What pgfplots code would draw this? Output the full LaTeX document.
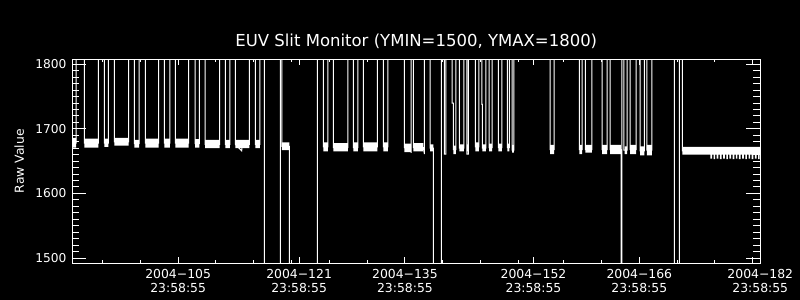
\documentclass[border=0pt]{standalone}
\usepackage{fontspec}
\setmainfont{DejaVu Sans}
\usepackage{pgfplots}
\pgfplotsset{compat=1.18}
\usepackage{pgfplotstable}
% Trace of the raw values (off-scale excursions above 1808 and below 1492)
\pgfplotstableread{
x y
92.00 1678
92.49 1678
92.49 1850
93.59 1850
93.59 1678
95.44 1678
95.44 1850
96.23 1850
96.23 1678
96.76 1678
96.76 1850
97.56 1850
97.56 1680
99.46 1680
99.46 1850
100.20 1850
100.20 1677
100.83 1677
100.83 1850
101.66 1850
101.66 1678
103.43 1678
103.43 1850
104.17 1850
104.17 1678
104.89 1678
104.89 1850
105.63 1850
105.63 1678
107.40 1678
107.40 1850
108.23 1850
108.23 1677
108.80 1677
108.80 1850
109.56 1850
109.56 1676
111.50 1676
111.50 1850
112.24 1850
112.24 1676
112.83 1676
112.83 1850
113.57 1850
113.57 1676
114.40 1666
114.50 1676
115.42 1676
115.42 1850
116.21 1850
116.21 1676
116.80 1676
116.80 1850
117.40 1850
117.40 1450
119.52 1450
119.52 1850
119.71 1850
119.71 1673
120.71 1673
120.71 1450
124.42 1450
124.42 1850
125.21 1850
125.21 1672
125.79 1672
125.79 1850
126.53 1850
126.53 1671
128.44 1671
128.44 1850
129.18 1850
129.18 1671
129.76 1671
129.76 1850
130.50 1850
130.50 1672
132.36 1672
132.36 1850
133.15 1850
133.15 1672
133.73 1672
133.73 1850
135.93 1850
135.93 1671
136.81 1664
136.81 1850
137.12 1850
137.12 1671
138.44 1671
138.57 1661
138.57 1850
139.33 1850
139.33 1670
139.76 1670
139.76 1450
140.82 1450
140.82 1850
141.22 1850
141.22 1661
141.40 1661
141.40 1850
142.24 1850
142.24 1740
142.41 1740
142.41 1668
142.73 1668
142.73 1850
143.20 1850
143.20 1670
143.79 1670
143.79 1850
144.18 1850
144.18 1661
144.40 1661
144.40 1850
145.32 1850
145.32 1672
145.77 1672
145.77 1850
146.17 1850
146.17 1738
146.25 1738
146.25 1670
146.70 1670
146.70 1850
147.13 1850
147.13 1671
147.53 1671
147.53 1850
148.36 1850
148.36 1671
148.81 1671
148.81 1850
149.56 1850
149.56 1671
149.82 1671
149.82 1850
150.18 1850
150.18 1667
150.40 1667
150.40 1850
155.21 1850
155.21 1668
155.73 1668
155.73 1850
159.08 1850
159.08 1668
159.44 1668
159.44 1850
159.88 1850
159.88 1668
160.72 1668
160.72 1850
162.09 1850
162.09 1668
162.75 1668
162.75 1850
163.14 1850
163.14 1668
164.60 1668
164.60 1450
164.69 1450
164.69 1850
164.96 1850
164.96 1667
165.39 1667
165.39 1850
165.79 1850
165.79 1668
166.58 1668
166.58 1850
167.11 1850
167.11 1666
167.68 1666
167.68 1850
168.00 1850
168.00 1667
168.66 1667
168.66 1850
171.65 1850
171.65 1450
172.31 1450
172.31 1850
172.71 1850
172.71 1666
183.00 1666
}\trace
% Envelope (min/max) of the noisy in-range segments
\pgfplotstableread{
x y
92.00 1671
92.49 1671
92.49 1686
92.00 1686
nan nan
93.59 1671
95.44 1671
95.44 1685
93.59 1685
nan nan
96.23 1672
96.76 1672
96.76 1685
96.23 1685
nan nan
97.56 1674
99.46 1674
99.46 1686
97.56 1686
nan nan
100.20 1671
100.83 1671
100.83 1683
100.20 1683
nan nan
101.66 1671
103.43 1671
103.43 1685
101.66 1685
nan nan
104.17 1671
104.89 1671
104.89 1685
104.17 1685
nan nan
105.63 1671
107.40 1671
107.40 1685
105.63 1685
nan nan
108.23 1671
108.80 1671
108.80 1684
108.23 1684
nan nan
109.56 1670
111.50 1670
111.50 1683
109.56 1683
nan nan
112.24 1670
112.83 1670
112.83 1683
112.24 1683
nan nan
113.57 1670
115.42 1670
115.42 1683
113.57 1683
nan nan
116.21 1670
116.80 1670
116.80 1683
116.21 1683
nan nan
119.71 1667
120.71 1667
120.71 1679
119.71 1679
nan nan
125.21 1665
125.79 1665
125.79 1679
125.21 1679
nan nan
126.53 1665
128.44 1665
128.44 1678
126.53 1678
nan nan
129.18 1665
129.76 1665
129.76 1679
129.18 1679
nan nan
130.50 1665
132.36 1665
132.36 1679
130.50 1679
nan nan
133.15 1665
133.73 1665
133.73 1679
133.15 1679
nan nan
135.93 1664
136.81 1664
136.81 1677
135.93 1677
nan nan
137.12 1665
138.44 1665
138.44 1678
137.12 1678
nan nan
139.33 1665
139.76 1665
139.76 1676
139.33 1676
nan nan
142.41 1661
142.73 1661
142.73 1674
142.41 1674
nan nan
143.20 1665
143.79 1665
143.79 1676
143.20 1676
nan nan
144.18 1665
144.40 1665
144.40 1676
144.18 1676
nan nan
145.32 1665
145.77 1665
145.77 1679
145.32 1679
nan nan
146.25 1665
146.70 1665
146.70 1676
146.25 1676
nan nan
147.13 1665
147.53 1665
147.53 1677
147.13 1677
nan nan
148.36 1665
148.81 1665
148.81 1677
148.36 1677
nan nan
149.56 1665
149.82 1665
149.82 1677
149.56 1677
nan nan
150.18 1663
150.40 1663
150.40 1675
150.18 1675
nan nan
155.21 1661
155.73 1661
155.73 1675
155.21 1675
nan nan
159.08 1661
159.44 1661
159.44 1675
159.08 1675
nan nan
159.88 1663
160.72 1663
160.72 1675
159.88 1675
nan nan
162.09 1661
162.75 1661
162.75 1675
162.09 1675
nan nan
163.14 1661
164.60 1661
164.60 1675
163.14 1675
nan nan
165.04 1661
165.39 1661
165.39 1673
165.04 1673
nan nan
165.79 1661
166.58 1661
166.58 1675
165.79 1675
nan nan
167.11 1659
167.68 1659
167.68 1673
167.11 1673
nan nan
168.00 1659
168.66 1659
168.66 1675
168.00 1675
nan nan
172.71 1660
176.40 1660
176.40 1654
176.62 1654
176.62 1660
176.82 1660
176.82 1653
177.04 1653
177.04 1660
177.24 1660
177.24 1654
177.46 1654
177.46 1660
177.66 1660
177.66 1653
177.88 1653
177.88 1660
178.08 1660
178.08 1654
178.30 1654
178.30 1660
178.50 1660
178.50 1653
178.72 1653
178.72 1660
178.92 1660
178.92 1654
179.14 1654
179.14 1660
179.34 1660
179.34 1653
179.56 1653
179.56 1660
179.76 1660
179.76 1654
179.98 1654
179.98 1660
180.18 1660
180.18 1653
180.40 1653
180.40 1660
180.60 1660
180.60 1654
180.82 1654
180.82 1660
181.02 1660
181.02 1653
181.24 1653
181.24 1660
181.44 1660
181.44 1654
181.66 1654
181.66 1660
181.86 1660
181.86 1653
182.08 1653
182.08 1660
182.28 1660
182.28 1654
182.50 1654
182.50 1660
182.70 1660
182.70 1653
182.92 1653
182.92 1660
183.00 1660
183.00 1672
172.71 1672
}\bands
\begin{document}
\begin{tikzpicture}
\fill[black] (0,0) rectangle (800bp,300bp);
\begin{axis}[
  at={(72.3bp,36.7bp)}, anchor=south west,
  scale only axis, width=688bp, height=204bp,
  xmin=92, xmax=183, ymin=1491.8, ymax=1807.7,
  axis line style={white, line width=1bp},
  tick style={white, line width=1bp},
  xtick style={/pgfplots/major tick length=6bp, /pgfplots/minor tick length=3bp},
  ytick style={/pgfplots/major tick length=14bp, /pgfplots/minor tick length=7bp},
  xtick={106,122,136,153,167,183},
  xticklabels={{2004−105\\23:58:55},{2004−121\\23:58:55},{2004−135\\23:58:55},{2004−152\\23:58:55},{2004−166\\23:58:55},{2004−182\\23:58:55}},
  minor xtick={96,101,111,116,121,126,131,141,146,151,157,162,172,177},
  extra x ticks={182}, extra x tick labels={},
  ytick={1500,1600,1700,1800},
  yticklabels={1500,1600,1700,1800},
  minor y tick num=9,
  xticklabel style={font=\fontsize{12.4bp}{14.4bp}\selectfont, text=white, align=center, inner sep=0pt, anchor=north, yshift=-5.7bp},
  yticklabel style={font=\fontsize{12.2bp}{14bp}\selectfont, text=white, inner sep=0pt, anchor=east, xshift=-5.6bp},
  title={EUV Slit Monitor (YMIN=1500, YMAX=1800)},
  title style={at={(axis description cs:0.5,1.0324)}, anchor=base, font=\fontsize{16.5bp}{18bp}\selectfont, text=white, inner sep=0pt},
  ylabel={Raw Value},
  ylabel style={at={(axis description cs:-0.0702,0.5)}, anchor=base, font=\fontsize{12.4bp}{14bp}\selectfont, text=white, inner sep=0pt},
  unbounded coords=jump,
]
\addplot[draw=none, fill=white, forget plot] table {\bands};
\addplot[white, line width=1bp, forget plot] table {\trace};
\end{axis}
\end{tikzpicture}
\end{document}
